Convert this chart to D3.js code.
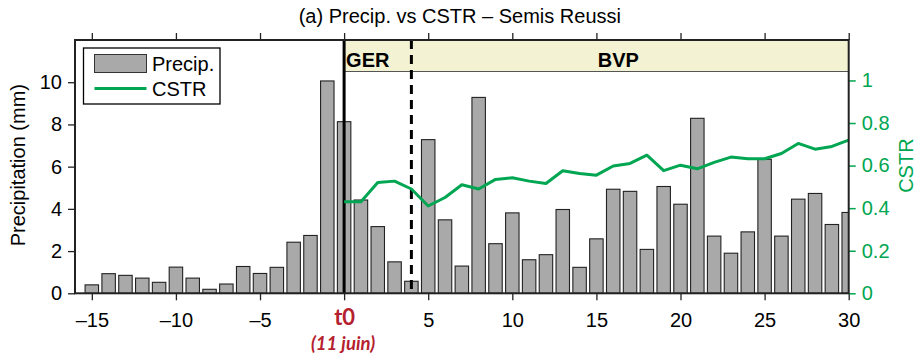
<!DOCTYPE html>
<html>
<head>
<meta charset="utf-8">
<script src="https://cdn.jsdelivr.net/npm/d3@7"></script>
<style>
  html, body { margin: 0; padding: 0; background: #fff; }
  svg { display: block; font-family: "Liberation Sans", Arial, Helvetica, sans-serif; }
</style>
</head>
<body>
<svg id="chart" width="918" height="360"></svg>
<script>
// Days relative to sowing date t0
const days = d3.range(-15, 31);
// Daily precipitation (mm), one value per day from -15 to 30
const precip = [
  0.40, 0.93, 0.85, 0.72, 0.52, 1.24, 0.72, 0.19, 0.44, 1.27,
  0.94, 1.23, 2.42, 2.74, 10.06, 8.13, 4.42, 3.16, 1.49, 0.57,
  7.28, 3.48, 1.29, 9.28, 2.35, 3.81, 1.59, 1.83, 3.97, 1.23,
  2.58, 4.93, 4.83, 2.08, 5.06, 4.22, 8.29, 2.71, 1.90, 2.91,
  6.35, 2.71, 4.46, 4.73, 3.26, 3.83
];
// CSTR from t0 to day 30
const cstrDays = d3.range(0, 31);
const cstr = [
  0.43, 0.43, 0.52, 0.527, 0.49, 0.41, 0.45, 0.51, 0.49, 0.535,
  0.543, 0.527, 0.516, 0.576, 0.563, 0.555, 0.598, 0.61, 0.649, 0.576,
  0.602, 0.585, 0.615, 0.64, 0.632, 0.632, 0.657, 0.704, 0.677, 0.69,
  0.72
];
const xTicks = [-15, -10, -5, 0, 5, 10, 15, 20, 25, 30];
const yLeftTicks = [0, 2, 4, 6, 8, 10];
const yRightTicks = [0, 0.2, 0.4, 0.6, 0.8, 1];
// Crop stage periods
const stages = [
  { name: "GER", start: 0, end: 4, labelAt: 0, anchor: "start" },
  { name: "BVP", start: 4, end: 30, labelAt: 16.3, anchor: "middle" }
];

const svg = d3.select("#chart");
const L = 75, R = 848.7, T = 40, B = 293.3;
const GREEN = "#00a651", RED = "#b5202e";
const FS = 20;
const fmt = v => String(v).replace("-", "\u2013");

const x = d3.scaleLinear().domain([-16, 30]).range([L, R]);
const y = d3.scaleLinear().domain([0, 12]).range([B, T]);
const y2 = d3.scaleLinear().domain([0, 1.19]).range([B, T]);
const barW = (x(1) - x(0)) * 0.8;

svg.append("defs").append("clipPath").attr("id", "plotclip")
  .append("rect").attr("x", L).attr("y", T).attr("width", R - L).attr("height", B - T);

const plot = svg.append("g").attr("clip-path", "url(#plotclip)");

// Stage band across the top
const bandBottom = 71.5;
plot.append("rect")
  .attr("x", x(0)).attr("y", T)
  .attr("width", x(30) - x(0)).attr("height", bandBottom - T)
  .attr("fill", "#f3f2d2").attr("stroke", "#555").attr("stroke-width", 1);
stages.forEach(s => {
  svg.append("text")
    .attr("x", s.anchor === "start" ? x(s.labelAt) + 2 : x(s.labelAt))
    .attr("y", 66.5)
    .attr("text-anchor", s.anchor)
    .attr("font-weight", "bold").attr("font-size", FS)
    .text(s.name);
});

// Precipitation bars
plot.selectAll("rect.bar").data(days).join("rect")
  .attr("class", "bar")
  .attr("x", d => x(d) - barW / 2)
  .attr("y", (d, i) => y(precip[i]))
  .attr("width", barW)
  .attr("height", (d, i) => y(0) - y(precip[i]))
  .attr("fill", "#a9a9a9").attr("stroke", "#222").attr("stroke-width", 1.1);

// t0 marker and stage boundary
plot.append("line")
  .attr("x1", x(0)).attr("x2", x(0)).attr("y1", T).attr("y2", B)
  .attr("stroke", "#000").attr("stroke-width", 3);
plot.append("line")
  .attr("x1", x(4)).attr("x2", x(4)).attr("y1", T).attr("y2", B)
  .attr("stroke", "#000").attr("stroke-width", 3).attr("stroke-dasharray", "9,6");

// CSTR line
plot.append("path")
  .datum(cstrDays.map((d, i) => [d, cstr[i]]))
  .attr("d", d3.line().x(d => x(d[0])).y(d => y2(d[1])))
  .attr("fill", "none").attr("stroke", GREEN).attr("stroke-width", 3)
  .attr("stroke-linejoin", "round");

// Axes
const tickLen = 7;
const bottomAxis = svg.append("g").attr("transform", `translate(0,${B})`)
  .call(d3.axisBottom(x).tickValues(xTicks).tickSize(tickLen).tickSizeOuter(0)
    .tickFormat(d => d === 0 ? "t0" : fmt(d)));
bottomAxis.selectAll("text")
  .attr("font-size", FS).attr("font-family", null).attr("fill", "#000")
  .attr("y", 33.4).attr("dy", null);
bottomAxis.selectAll(".tick").filter(d => d === 0).select("text")
  .attr("fill", RED).attr("font-weight", "bold").attr("font-size", 22)
  .attr("font-family", "Lato, 'Open Sans', sans-serif").attr("y", 32);

const topAxis = svg.append("g").attr("transform", `translate(0,${T})`)
  .call(d3.axisTop(x).tickValues(xTicks).tickSize(tickLen).tickSizeOuter(0).tickFormat(""));

const leftAxis = svg.append("g").attr("transform", `translate(${L},0)`)
  .call(d3.axisLeft(y).tickValues(yLeftTicks).tickSize(tickLen).tickSizeOuter(0));
leftAxis.selectAll("text").attr("font-size", FS).attr("fill", "#000").attr("x", -13);

const rightAxis = svg.append("g").attr("transform", `translate(${R},0)`)
  .call(d3.axisRight(y2).tickValues(yRightTicks).tickSize(tickLen).tickSizeOuter(0)
    .tickFormat(d => String(d)));
rightAxis.selectAll("text").attr("font-size", FS).attr("fill", GREEN).attr("x", 13);
rightAxis.selectAll(".tick line").attr("stroke", GREEN).attr("stroke-width", 1.5);

[bottomAxis, topAxis, leftAxis, rightAxis].forEach(g => {
  g.attr("font-family", null);
  g.select(".domain").remove();
  g.selectAll(".tick line").filter(function () { return this.getAttribute("stroke") !== GREEN; })
    .attr("stroke", "#222").attr("stroke-width", 1.3);
});

// Plot frame
svg.append("rect").attr("x", L).attr("y", T).attr("width", R - L).attr("height", B - T)
  .attr("fill", "none").attr("stroke", "#222").attr("stroke-width", 2);

// Date note under t0
svg.append("text")
  .attr("x", x(0) - 1).attr("y", 350)
  .attr("text-anchor", "middle")
  .attr("font-family", "Lato, 'Open Sans', sans-serif")
  .attr("font-style", "italic").attr("font-weight", "bold").attr("font-size", 18.5)
  .attr("fill", RED)
  .text("(11 juin)");

// Title and axis labels
svg.append("text")
  .attr("x", (L + R) / 2 - 2).attr("y", 23).attr("text-anchor", "middle")
  .attr("font-size", FS).text("(a) Precip. vs CSTR \u2013 Semis Reussi");

svg.append("text")
  .attr("transform", `translate(25,${(T + B) / 2 - 1.5}) rotate(-90)`)
  .attr("text-anchor", "middle").attr("font-size", FS)
  .text("Precipitation (mm)");

svg.append("text")
  .attr("transform", `translate(912.5,${(T + B) / 2 - 1}) rotate(-90)`)
  .attr("text-anchor", "middle").attr("font-size", FS).attr("fill", GREEN)
  .text("CSTR");

// Legend
const lg = svg.append("g");
lg.append("rect").attr("x", 83.5).attr("y", 48).attr("width", 136.5).attr("height", 56)
  .attr("fill", "#fff").attr("stroke", "#000").attr("stroke-width", 1.3);
lg.append("rect").attr("x", 94.5).attr("y", 54.5).attr("width", 52).attr("height", 18)
  .attr("fill", "#a9a9a9").attr("stroke", "#333").attr("stroke-width", 1);
lg.append("text").attr("x", 152).attr("y", 71).attr("font-size", FS).text("Precip.");
lg.append("line").attr("x1", 94.5).attr("x2", 146.5).attr("y1", 88.5).attr("y2", 88.5)
  .attr("stroke", GREEN).attr("stroke-width", 3);
lg.append("text").attr("x", 152).attr("y", 96).attr("font-size", FS).text("CSTR");
</script>
</body>
</html>
